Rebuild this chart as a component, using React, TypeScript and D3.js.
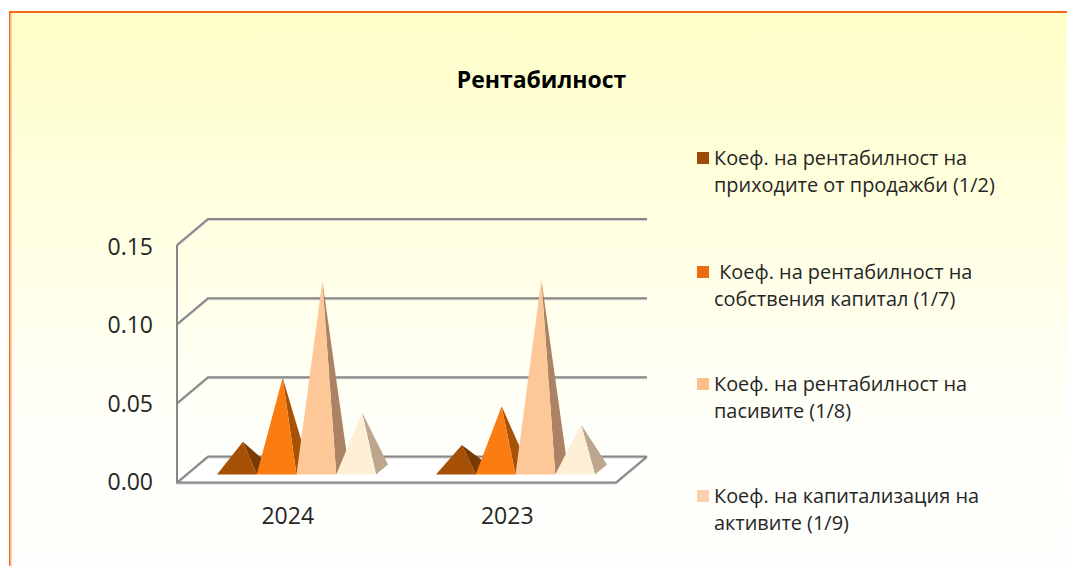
import React from "react";
import * as d3 from "d3";

const title = "Рентабилност";
const categories = ["2024", "2023"];
const seriesNames = ["s1", "s2", "s3", "s4"];
const series1 = [0.0176, 0.0155];
const series2 = [0.058, 0.04];
const series3 = [0.119, 0.12];
const series4 = [0.036, 0.0285];
const seriesValues = [series1, series2, series3, series4];
const yTicks = [0, 0.05, 0.1, 0.15];
const legendLines = [
  ["Коеф. на рентабилност на", "приходите от продажби (1/2)"],
  [" Коеф. на рентабилност на", "собствения капитал (1/7)"],
  ["Коеф. на рентабилност на", "пасивите (1/8)"],
  ["Коеф. на капитализация на", "активите (1/9)"],
];
const frontColors = ["#a65006", "#fb7c10", "#fdc797", "#fdefd5"];
const sideColors = ["#7a3a03", "#a85205", "#ac8264", "#bda68d"];
const legendColors = ["#a04a08", "#ec6d0c", "#fcc08c", "#fdd0b0"];

const FONT = "'Open Sans', 'Noto Sans', sans-serif";
const W = 1067, H = 566;
const dx = 31, dy = 26;
const floorFront = 482.5;
const y = d3.scaleLinear().domain([0, 0.15]).range([floorFront, 245]);
const yLabel = d3.scaleLinear().domain([0, 0.15]).range([490, 255]);
const xBand = d3.scaleBand<string>().domain(categories).range([177, 616]);
const xRight = 616;
const xLeft = 177;
const serBand = d3.scaleBand<string>().domain(seriesNames).range([217, 376]);
const catOffset = 219;
const baseFront = 474.5;
const apexBase = 469.5;
const yScalePx = d3.scaleLinear().domain([0, 0.15]).range([apexBase, apexBase - 237.5]);
const legendY = [152, 266, 378, 490];

export default function App() {
  const line = d3.line();
  const gridPaths = yTicks.map((t) => line([[xLeft, y(t)], [xLeft + dx, y(t) - dy], [xRight + dx, y(t) - dy]]) as string);
  const framePath = `M${xLeft},${y(0.15)}V${y(0)}H${xRight}L${xRight + dx},${y(0) - dy}`;
  return (
    <svg width={W} height={H} style={{ position: "fixed", left: 0, top: 0, display: "block" }}>
      <defs>
        <linearGradient id="bg" x1="0" y1="0" x2="0" y2="1">
          <stop offset="0" stopColor="#ffffc8" />
          <stop offset="0.75" stopColor="#fffffa" />
          <stop offset="1" stopColor="#fefefc" />
        </linearGradient>
      </defs>
      <rect x={0} y={0} width={W} height={H} fill="#ffffff" />
      <rect x={10} y={12} width={W - 10} height={H - 12} fill="url(#bg)" />
      <rect x={9} y={11} width={1.5} height={H - 11} fill="#f26a1c" />
      <rect x={10.5} y={13} width={1} height={H - 13} fill="#fbb07a" />
      <rect x={9} y={11} width={W - 9} height={2} fill="#f26a1c" />
      <text x={541.5} y={88} textAnchor="middle" fontFamily={FONT} fontWeight={700} fontSize={23} fill="#000">{title}</text>

      <polygon points={`${xLeft},${floorFront} ${xRight},${floorFront} ${xRight + dx},${floorFront - dy} ${xLeft + dx},${floorFront - dy}`} fill="#ffffff" />
      {gridPaths.map((d, i) => (
        <path key={i} d={d} fill="none" stroke="#cfcfcf" strokeWidth={2} transform="translate(0,1)" />
      ))}
      <path d={framePath} fill="none" stroke="#cfcfcf" strokeWidth={2} transform="translate(0,1)" />
      {gridPaths.map((d, i) => (
        <path key={i} d={d} fill="none" stroke="#878787" strokeWidth={2} />
      ))}
      <path d={framePath} fill="none" stroke="#878787" strokeWidth={2} />
      {yTicks.map((t) => (
        <text key={t} x={153} y={yLabel(t)} textAnchor="end" fontFamily={FONT} fontSize={23} fill="#262626">{t.toFixed(2)}</text>
      ))}
      {categories.map((c) => (
        <text key={c} x={(xBand(c) as number) + xBand.bandwidth() / 2 + 1} y={524} textAnchor="middle" fontFamily={FONT} fontSize={23} fill="#262626">{c}</text>
      ))}

      {categories.map((c, ci) =>
        seriesNames.map((s, si) => {
          const left = (serBand(s) as number) + ci * catOffset;
          const w = serBand.bandwidth();
          const right = left + w;
          const ax = left + w / 2 + 6;
          const ay = yScalePx(seriesValues[si][ci]);
          return (
            <g key={c + s}>
              <polygon points={`${right},${baseFront} ${right + 12},${baseFront - 10} ${ax},${ay}`} fill={sideColors[si]} />
              <polygon points={`${left},${baseFront} ${right},${baseFront} ${ax},${ay}`} fill={frontColors[si]} />
            </g>
          );
        })
      )}

      {legendLines.map((ls, i) => (
        <g key={i}>
          <rect x={697} y={legendY[i]} width={12} height={12} fill={legendColors[i]} />
          {ls.map((l, j) => (
            <text key={j} x={714} y={legendY[i] + 13 + j * 27.3} style={{ whiteSpace: "pre" }} fontFamily={FONT} fontSize={19.9} fill="#262626">{l}</text>
          ))}
        </g>
      ))}
    </svg>
  );
}
